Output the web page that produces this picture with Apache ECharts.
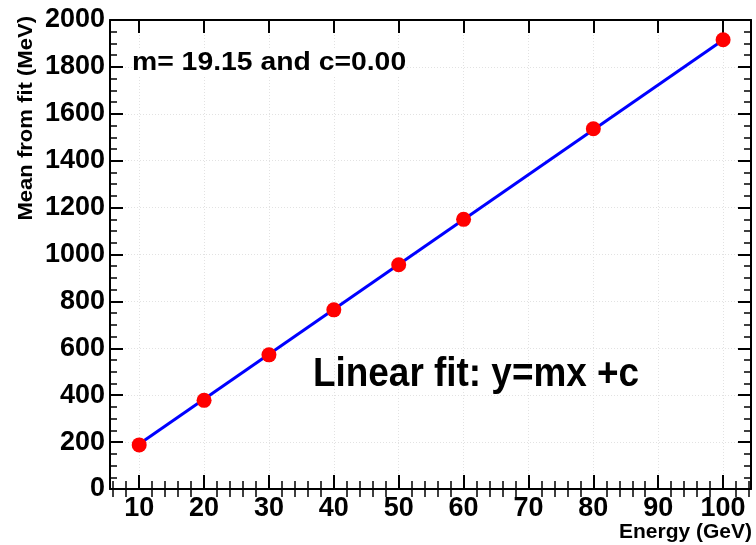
<!DOCTYPE html>
<html>
<head>
<meta charset="utf-8">
<script src="https://cdn.jsdelivr.net/npm/echarts@6/dist/echarts.min.js"></script>
<style>
  html, body { margin: 0; padding: 0; background: #ffffff; }
  #chart { width: 756px; height: 545px; }
</style>
</head>
<body>
<div id="chart"></div>
<script>
// Beam energy (GeV) and fitted mean of the energy deposit (MeV)
const energies = [10, 20, 30, 40, 50, 60, 80, 100];
const meanFromFit = [188, 378, 572, 764, 956, 1150, 1536, 1916];

// Linear fit parameters y = m x + c
const fitSlope = 19.15;
const fitIntercept = 0.00;
const fitRangeX = [10, 100];

// Axis ticks
const xMajorTicks = [10, 20, 30, 40, 50, 60, 70, 80, 90, 100];
const xRange = [5.5, 104.3];
const yRange = [0, 2000];

const xMinorTicks = [];
for (let v = 6; v <= 104; v += 2) {
  if (v % 10 !== 0) xMinorTicks.push(v);
}

const FONT = '"Liberation Sans", Arial, Helvetica, sans-serif';
const pointData = energies.map((e, i) => [e, meanFromFit[i]]);
const fitData = fitRangeX.map(x => [x, fitSlope * x + fitIntercept]);

const axisLineStyle = { color: '#000', width: 2 };
const gridStyle = { color: '#e2e2e2', width: 1, type: [1, 2] };

function xAxisDef(position, ticks, len, opts) {
  return Object.assign({
    type: 'value',
    position: position,
    min: xRange[0],
    max: xRange[1],
    axisLine: { show: true, onZero: false, lineStyle: axisLineStyle },
    axisTick: { show: true, inside: true, length: len, customValues: ticks,
                lineStyle: { color: '#000', width: len > 10 ? 2 : 1.5 } },
    axisLabel: { show: false },
    splitLine: { show: false }
  }, opts || {});
}

function yAxisDef(position, opts) {
  return Object.assign({
    type: 'value',
    position: position,
    min: yRange[0],
    max: yRange[1],
    interval: 200,
    axisLine: { show: true, onZero: false, lineStyle: axisLineStyle },
    axisTick: { show: true, inside: true, length: 13, lineStyle: { color: '#000', width: 2 } },
    minorTick: { show: true, splitNumber: 4, length: 7, lineStyle: { color: '#000', width: 1.5 } },
    axisLabel: { show: false },
    splitLine: { show: false }
  }, opts || {});
}

const chart = echarts.init(document.getElementById('chart'), null, { renderer: 'canvas' });

chart.setOption({
  animation: false,
  backgroundColor: '#ffffff',
  grid: { left: 110, right: 5, top: 20, bottom: 56, containLabel: false },
  xAxis: [
    xAxisDef('bottom', xMajorTicks, 14, {
      axisLabel: {
        show: true, customValues: xMajorTicks, margin: 6,
        color: '#000', fontFamily: FONT, fontWeight: 'bold', fontSize: 27,
        formatter: v => String(v)
      },
      splitLine: { show: true, lineStyle: gridStyle }
    }),
    xAxisDef('bottom', xMinorTicks, 8, { axisLine: { show: false } }),
    xAxisDef('top', xMajorTicks, 13),
    xAxisDef('top', xMinorTicks, 8, { axisLine: { show: false } })
  ],
  yAxis: [
    yAxisDef('left', {
      axisLabel: {
        show: true, margin: 5, color: '#000',
        fontFamily: FONT, fontWeight: 'bold', fontSize: 27,
        formatter: v => String(v)
      },
      splitLine: { show: true, lineStyle: gridStyle }
    }),
    yAxisDef('right')
  ],
  series: [
    {
      name: 'fit',
      type: 'line',
      xAxisIndex: 0,
      yAxisIndex: 0,
      data: fitData,
      symbol: 'none',
      lineStyle: { color: '#0000ff', width: 3 },
      z: 3
    },
    {
      name: 'mean',
      type: 'scatter',
      xAxisIndex: 0,
      yAxisIndex: 0,
      data: pointData,
      symbol: 'circle',
      symbolSize: 15,
      itemStyle: { color: '#ff0000', opacity: 1 },
      z: 4
    }
  ],
  graphic: [
    {
      type: 'text', x: 132, y: 63, scaleX: 1.09, z: 20,
      style: { text: 'm= 19.15 and c=0.00', fill: '#000', font: 'bold 26px ' + FONT,
               align: 'left', verticalAlign: 'middle',
               backgroundColor: '#ffffff' }
    },
    {
      type: 'text', x: 313, y: 375, scaleX: 0.9, z: 20,
      style: { text: 'Linear fit: y=mx +c', fill: '#000', font: 'bold 41px ' + FONT,
               align: 'left', verticalAlign: 'middle' }
    },
    {
      type: 'text', x: 752, y: 532, z: 20,
      style: { text: 'Energy (GeV)', fill: '#000', font: 'bold 21px ' + FONT,
               align: 'right', verticalAlign: 'middle' }
    },
    {
      type: 'text', x: 26, y: 16, rotation: Math.PI / 2, scaleX: 1.05, z: 20,
      style: { text: 'Mean from fit (MeV)', fill: '#000', font: 'bold 21px ' + FONT,
               align: 'right', verticalAlign: 'middle' }
    }
  ]
});
</script>
</body>
</html>
